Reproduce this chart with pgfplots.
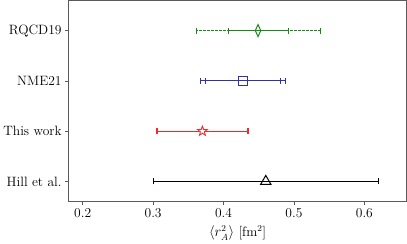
\documentclass[border=0pt]{standalone}
\usepackage{fontspec}
\usepackage{pgfplots}
\pgfplotsset{compat=1.18}
\definecolor{cgreen}{RGB}{20,140,20}
\definecolor{cblue}{RGB}{50,50,165}
\definecolor{cred}{RGB}{245,40,40}
\definecolor{spine}{RGB}{90,90,90}
\pgfdeclareplotmark{ostar}{%
  \pgfpathmoveto{\pgfqpointpolar{90}{\pgfplotmarksize}}%
  \pgfpathlineto{\pgfqpointpolar{126}{0.42\pgfplotmarksize}}%
  \pgfpathlineto{\pgfqpointpolar{162}{\pgfplotmarksize}}%
  \pgfpathlineto{\pgfqpointpolar{198}{0.42\pgfplotmarksize}}%
  \pgfpathlineto{\pgfqpointpolar{234}{\pgfplotmarksize}}%
  \pgfpathlineto{\pgfqpointpolar{270}{0.42\pgfplotmarksize}}%
  \pgfpathlineto{\pgfqpointpolar{306}{\pgfplotmarksize}}%
  \pgfpathlineto{\pgfqpointpolar{342}{0.42\pgfplotmarksize}}%
  \pgfpathlineto{\pgfqpointpolar{18}{\pgfplotmarksize}}%
  \pgfpathlineto{\pgfqpointpolar{54}{0.42\pgfplotmarksize}}%
  \pgfpathclose
  \pgfusepathqfillstroke}
\begin{document}
\begin{tikzpicture}
\begin{axis}[
  width=336bp, height=200bp, scale only axis,
  xmin=0.18, xmax=0.66, ymin=-0.4, ymax=3.6,
  xtick={0.2,0.3,0.4,0.5,0.6},
  xticklabels={0.2,0.3,0.4,0.5,0.6},
  ytick={0,1,2,3},
  yticklabels={Hill et al.,This work,NME21,RQCD19},
  xtick pos=bottom, ytick pos=left,
  tick align=outside, major tick length=3.5bp,
  every tick/.style={spine, line width=0.6pt},
  axis line style={spine, line width=0.8pt},
  tick label style={font=\fontsize{13.5}{16}\selectfont},
  label style={font=\fontsize{13.5}{16}\selectfont},
  xlabel={$\langle r_A^2\rangle$ [fm$^2$]},
  xlabel style={yshift=-1bp},
  clip=false,
]
% RQCD19 outer (dashed)
\addplot[draw=none, mark=none, forget plot,
  error bars/.cd, x dir=both, x explicit,
  error bar style={cgreen, dashed, dash pattern=on 2.5bp off 1.5bp, line width=0.9pt},
  error mark options={cgreen, solid, line width=0.9pt, mark size=3bp, rotate=90}]
  coordinates {(0.449,3) +- (0.088,0)};
% RQCD19 inner
\addplot[draw=none, mark=none, forget plot,
  error bars/.cd, x dir=both, x explicit,
  error bar style={cgreen, solid, line width=1pt},
  error mark options={cgreen, solid, line width=0.9pt, mark size=3bp, rotate=90}]
  coordinates {(0.449,3) +- (0.0425,0)};
\addplot[only marks, mark=diamond, mark size=6bp, mark options={cgreen, fill=white, line width=1pt, xscale=0.6}]
  coordinates {(0.449,3)};
% NME21 outer
\addplot[draw=none, mark=none, forget plot,
  error bars/.cd, x dir=both, x explicit,
  error bar style={cblue, line width=1pt},
  error mark options={cblue, line width=0.9pt, mark size=3bp, rotate=90}]
  coordinates {(0.428,2) +- (0.0605,0)};
% NME21 inner
\addplot[draw=none, mark=none, forget plot,
  error bars/.cd, x dir=both, x explicit,
  error bar style={cblue, line width=1pt},
  error mark options={cblue, line width=0.9pt, mark size=3bp, rotate=90}]
  coordinates {(0.428,2) +- (0.053,0)};
\addplot[only marks, mark=square, mark size=4.5bp, mark options={cblue, fill=white, line width=1pt}]
  coordinates {(0.428,2)};
% This work
\addplot[draw=none, mark=none, forget plot,
  error bars/.cd, x dir=both, x explicit,
  error bar style={cred, line width=1pt},
  error mark options={cred, line width=2pt, mark size=3bp, rotate=90}]
  coordinates {(0.37,1) +- (0.065,0)};
\addplot[only marks, mark=ostar, mark size=5bp, mark options={cred, fill=white, line width=0.9pt}]
  coordinates {(0.37,1)};
% Hill et al.
\addplot[draw=none, mark=none, forget plot,
  error bars/.cd, x dir=both, x explicit,
  error bar style={black, line width=1pt},
  error mark options={black, line width=1pt, mark size=3bp, rotate=90}]
  coordinates {(0.46,0) +- (0.16,0)};
\addplot[only marks, mark=triangle, mark size=6bp, mark options={black, fill=white, line width=1pt}]
  coordinates {(0.46,0)};
\end{axis}
\end{tikzpicture}
\end{document}
